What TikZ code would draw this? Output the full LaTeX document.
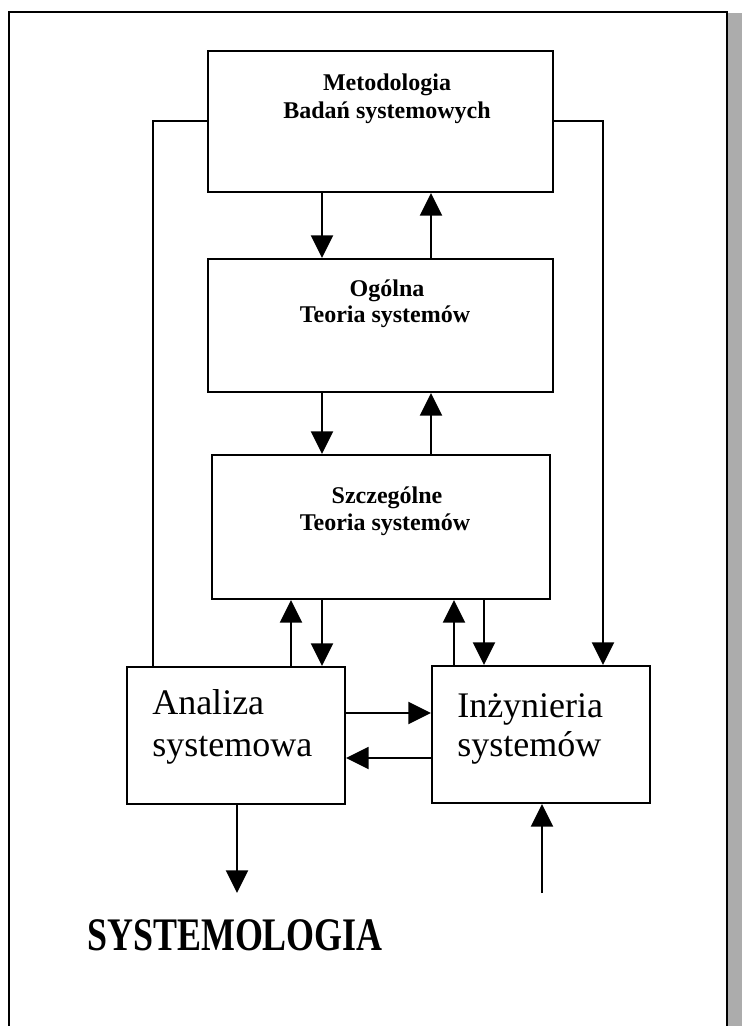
\documentclass[tikz,border=0pt]{standalone}
\usepackage{fontspec}
\setmainfont{Liberation Serif}
\usetikzlibrary{arrows.meta,fit}
\definecolor{shadow}{RGB}{172,172,172}
\begin{document}
\begin{tikzpicture}[x=0.75pt,y=-0.75pt,
  frame/.style={line width=1.5pt},
  box/.style={draw, line width=1.5pt, rectangle, inner sep=0pt},
  plain/.style={line width=1.5pt},
  link/.style={line width=1.5pt, -{Triangle[length=17pt,width=16.5pt]}},
  boldline/.style={font=\bfseries\fontsize{18}{21}\selectfont, anchor=base, inner sep=0pt},
  bigline/.style={font=\fontsize{27}{31.5}\selectfont, anchor=base west, inner sep=0pt},
  title/.style={font=\bfseries\fontsize{35}{40}\selectfont, anchor=base west, inner sep=0pt}]
\useasboundingbox (0,0) rectangle (742,1026);

% page frame with its grey shadow strip
\fill[shadow] (728,13) rectangle (742,1026);
\draw[frame] (9,1030) -- (9,12) -- (727,12) -- (727,1030);

% blocks
\node[box, fit={(208,51) (553,192)}] (meto) {};
\node[box, fit={(208,259) (553,392)}] (ogol) {};
\node[box, fit={(212,455) (550,599)}] (szcz) {};
\node[box, fit={(127,667) (345,804)}] (anal) {};
\node[box, fit={(432,666) (650,803)}] (inz) {};

% block texts
\node[boldline] (metoA) at (387,90) {Metodologia};
\node[boldline] (metoB) at (387,118) {Badań systemowych};
\node[boldline] (ogolA) at (387,296) {Ogólna};
\node[boldline] (ogolB) at (385,322) {Teoria systemów};
\node[boldline] (szczA) at (387,503) {Szczególne};
\node[boldline] (szczB) at (385,530) {Teoria systemów};
\node[bigline] (analA) at (152,714) {Analiza};
\node[bigline] (analB) at (152,756) {systemowa};
\node[bigline] (inzA) at (457,717) {Inżynieria};
\node[bigline] (inzB) at (457,756) {systemów};
\node[title] (sysl) at (87,950) {\scalebox{0.77}[1]{SYSTEMOLOGIA}};

% guide coordinates for connector columns and rows
\coordinate (down) at (322,0);
\coordinate (up) at (431,0);
\coordinate (aup) at (291,0);
\coordinate (iup) at (454,0);
\coordinate (idown) at (484,0);
\coordinate (lx) at (153,0);
\coordinate (rx) at (603,0);
\coordinate (ly) at (0,121);
\coordinate (ry) at (0,713);
\coordinate (by) at (0,758);
\coordinate (sink) at (237,893);
\coordinate (source) at (542,893);

% vertical chain
\draw[link] (meto.south -| down) -- (ogol.north -| down);
\draw[link] (ogol.north -| up) -- (meto.south -| up);
\draw[link] (ogol.south -| down) -- (szcz.north -| down);
\draw[link] (szcz.north -| up) -- (ogol.south -| up);
\draw[link] (anal.north -| aup) -- (szcz.south -| aup);
\draw[link] (szcz.south -| down) -- (anal.north -| down);
\draw[link] (inz.north -| iup) -- (szcz.south -| iup);
\draw[link] (szcz.south -| idown) -- (inz.north -| idown);

% side loops from the methodology block
\draw[plain] (ly -| meto.west) -| (anal.north -| lx);
\draw[link] (ly -| meto.east) -| (inz.north -| rx);

% exchange between analysis and engineering
\draw[link] (anal.east |- ry) -- (inz.west |- ry);
\draw[link] (inz.west |- by) -- (anal.east |- by);

% outputs and inputs
\draw[link] (anal.south -| sink) -- (sink);
\draw[link] (source) -- (inz.south -| source);
\end{tikzpicture}
\end{document}
